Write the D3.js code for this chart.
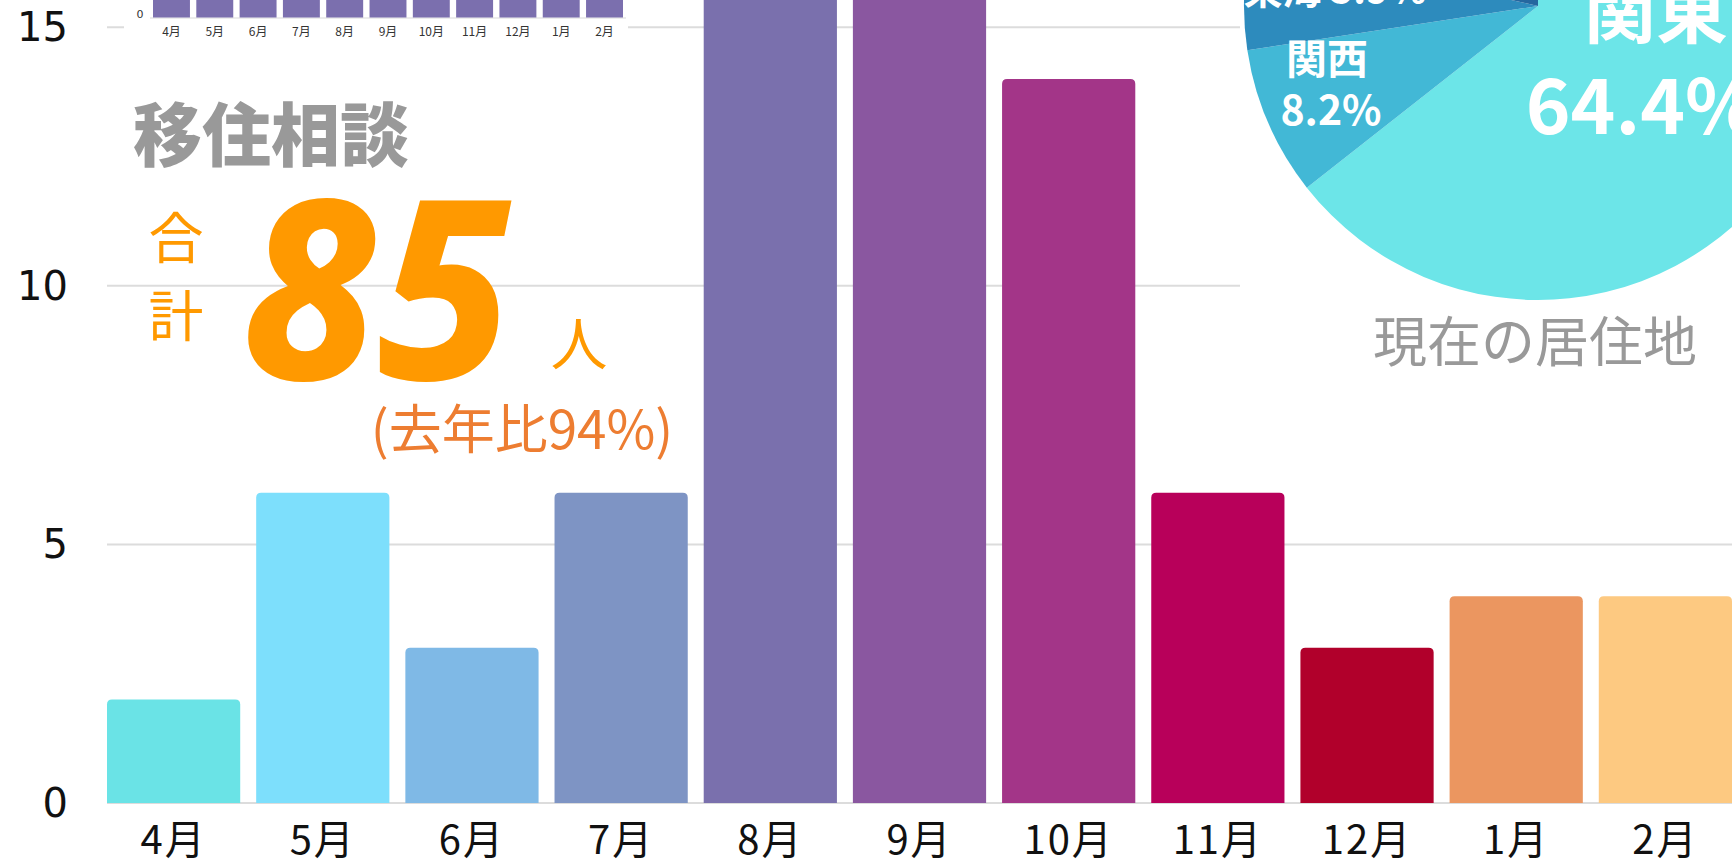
<!DOCTYPE html>
<html>
<head>
<meta charset="utf-8">
<script src="https://cdn.jsdelivr.net/npm/d3@7"></script>
<style>
  html, body { margin: 0; padding: 0; background: #fff; overflow: hidden; }
  svg { display: block; }
</style>
</head>
<body>
<svg id="chart" width="1732" height="862"></svg>
<script>
// ---------- data ----------
const months = ["4月","5月","6月","7月","8月","9月","10月","11月","12月","1月","2月"];
const counts = [2, 6, 3, 6, 18, 19, 14, 6, 3, 4, 4];
const barColors = ["#6ae3e6","#7ddffc","#7fb9e6","#7e94c4","#7a70ad","#8a57a0","#a33588","#b8005a","#b1002b","#eb9660","#fdc981"];
const yTicks = [0, 5, 10, 15];

const insetMonths = ["4月","5月","6月","7月","8月","9月","10月","11月","12月","1月","2月"];
const insetCounts = [2, 6, 3, 6, 18, 19, 14, 6, 3, 4, 4];
const insetTicks = [0];

const regions = ["関東","関西","東海","その他"];
const regionShares = [64.4, 8.2, 5.9, 21.5];
const regionColors = ["#6ce5e8","#42b8d6","#2d8bbd","#25679f"];

const titleText = "移住相談";
const totalLabel = ["合","計"];
const totalValue = 85;
const unitText = "人";
const ratioText = "(去年比94%)";
const pieTitle = "現在の居住地";

// ---------- setup ----------
const svg = d3.select("#chart");
const W = 1732, H = 862;
svg.append("rect").attr("width", W).attr("height", H).attr("fill", "#fff");

const cjk = "'Noto Sans CJK JP', 'Noto Sans', sans-serif";

const x = d3.scaleBand().domain(months).range([107, 1732]).paddingInner(0.107).paddingOuter(0);
const y = d3.scaleLinear().domain([0, 15]).range([803, 27.3]);

// gridlines
svg.append("g").selectAll("line").data(yTicks).join("line")
  .attr("x1", 107).attr("x2", W)
  .attr("y1", d => y(d)).attr("y2", d => y(d))
  .attr("stroke", "#dcdcdc").attr("stroke-width", 2);

// y-axis tick labels
svg.append("g").selectAll("text").data(yTicks).join("text")
  .attr("x", 68).attr("y", d => y(d))
  .attr("text-anchor", "end").attr("dominant-baseline", "central")
  .attr("font-family", "'DejaVu Sans', sans-serif").attr("font-size", 40)
  .attr("fill", "#111").text(d => d);

// bars with rounded top corners
function topRounded(x0, y0, w, h, r) {
  r = Math.min(r, w / 2, h);
  return `M${x0},${y0 + h}V${y0 + r}Q${x0},${y0} ${x0 + r},${y0}H${x0 + w - r}Q${x0 + w},${y0} ${x0 + w},${y0 + r}V${y0 + h}Z`;
}
svg.append("g").selectAll("path").data(counts).join("path")
  .attr("d", (d, i) => topRounded(x(months[i]), y(d), x.bandwidth(), y(0) - y(d), 5))
  .attr("fill", (d, i) => barColors[i]);

// x-axis labels
svg.append("g").selectAll("text").data(months).join("text")
  .attr("x", d => x(d) + x.bandwidth() / 2).attr("y", 854)
  .attr("text-anchor", "middle")
  .attr("font-family", cjk).attr("font-size", 40).attr("letter-spacing", 2)
  .attr("fill", "#111").text(d => d);

// ---------- inset mini chart ----------
const inset = svg.append("g");
inset.append("rect").attr("x", 124).attr("y", 0).attr("width", 504).attr("height", 46).attr("fill", "#fff");
const ix = d3.scaleBand().domain(insetMonths).range([153, 623]).paddingInner(0.147).paddingOuter(0);
const iy = d3.scaleLinear().domain([0, 20]).range([17.5, -200]);
inset.append("line").attr("x1", 150).attr("x2", 626).attr("y1", iy(0) + 0.5).attr("y2", iy(0) + 0.5)
  .attr("stroke", "#d9d9d9").attr("stroke-width", 1);
inset.selectAll("rect.ib").data(insetCounts).join("rect").attr("class", "ib")
  .attr("x", (d, i) => ix(insetMonths[i])).attr("y", d => iy(d))
  .attr("width", ix.bandwidth()).attr("height", d => iy(0) - iy(d))
  .attr("fill", "#7b6fae");
inset.selectAll("text.it").data(insetTicks).join("text").attr("class", "it")
  .attr("x", 140).attr("y", d => iy(d) - 3)
  .attr("text-anchor", "middle").attr("dominant-baseline", "central")
  .attr("font-family", "'DejaVu Sans', sans-serif").attr("font-size", 11)
  .attr("fill", "#333").text(d => d);
inset.selectAll("text.il").data(insetMonths).join("text").attr("class", "il")
  .attr("x", d => ix(d) + ix.bandwidth() / 2).attr("y", 36)
  .attr("text-anchor", "middle")
  .attr("font-family", cjk).attr("font-size", 12)
  .attr("fill", "#333").text(d => d);

// ---------- headline texts ----------
svg.append("text").attr("x", 133).attr("y", 161)
  .attr("font-family", cjk).attr("font-weight", 900).attr("font-size", 69)
  .attr("fill", "#999999").text(titleText);

svg.append("g").selectAll("text").data(totalLabel).join("text")
  .attr("x", 176).attr("y", (d, i) => 258 + i * 78)
  .attr("text-anchor", "middle")
  .attr("font-family", cjk).attr("font-size", 55)
  .attr("fill", "#ff9900").text(d => d);

svg.append("text").attr("x", 242).attr("y", 380)
  .attr("font-family", "'Noto Sans', 'Open Sans', sans-serif")
  .attr("font-style", "italic").attr("font-weight", 800).attr("font-size", 250)
  .attr("textLength", 270).attr("lengthAdjust", "spacingAndGlyphs")
  .attr("fill", "#ff9900").text(totalValue);

svg.append("text").attr("x", 579).attr("y", 365).attr("text-anchor", "middle")
  .attr("font-family", cjk).attr("font-size", 57)
  .attr("fill", "#ff9900").text(unitText);

svg.append("text").attr("x", 522).attr("y", 449).attr("text-anchor", "middle")
  .attr("font-family", cjk).attr("font-size", 53)
  .attr("fill", "#ed7d31").text(ratioText);

// ---------- pie ----------
const pieG = svg.append("g");
pieG.append("rect").attr("x", 1240).attr("y", 0).attr("width", W - 1240).attr("height", 380).attr("fill", "#fff");
const pcx = 1538, pcy = 6, pr = 294;
const pie = d3.pie().sort(null).value(d => d)(regionShares);
const arc = d3.arc().innerRadius(0).outerRadius(pr);
pieG.append("g").attr("transform", `translate(${pcx},${pcy})`)
  .selectAll("path").data(pie).join("path")
  .attr("d", arc).attr("fill", (d, i) => regionColors[i]);

const pieLabelStyle = sel => sel.attr("font-family", cjk).attr("font-weight", 700)
  .attr("fill", "#fff").attr("text-anchor", "middle");

// 関東
pieG.append("text").call(pieLabelStyle).attr("x", 1656).attr("y", 37).attr("font-size", 72).text(regions[0]);
pieG.append("text").call(pieLabelStyle).attr("x", 1642).attr("y", 134).attr("font-size", 76).text(regionShares[0] + "%");
// 関西
pieG.append("text").call(pieLabelStyle).attr("x", 1327).attr("y", 74).attr("font-size", 41).text(regions[1]);
pieG.append("text").call(pieLabelStyle).attr("x", 1331).attr("y", 125).attr("font-size", 41).text(regionShares[1] + "%");
// 東海
pieG.append("text").call(pieLabelStyle).attr("x", 1335).attr("y", 4).attr("font-size", 39).text(regions[2] + " " + regionShares[2] + "%");

pieG.append("text").attr("x", 1535).attr("y", 362).attr("text-anchor", "middle")
  .attr("font-family", cjk).attr("font-size", 54)
  .attr("fill", "#999999").text(pieTitle);
</script>
</body>
</html>
